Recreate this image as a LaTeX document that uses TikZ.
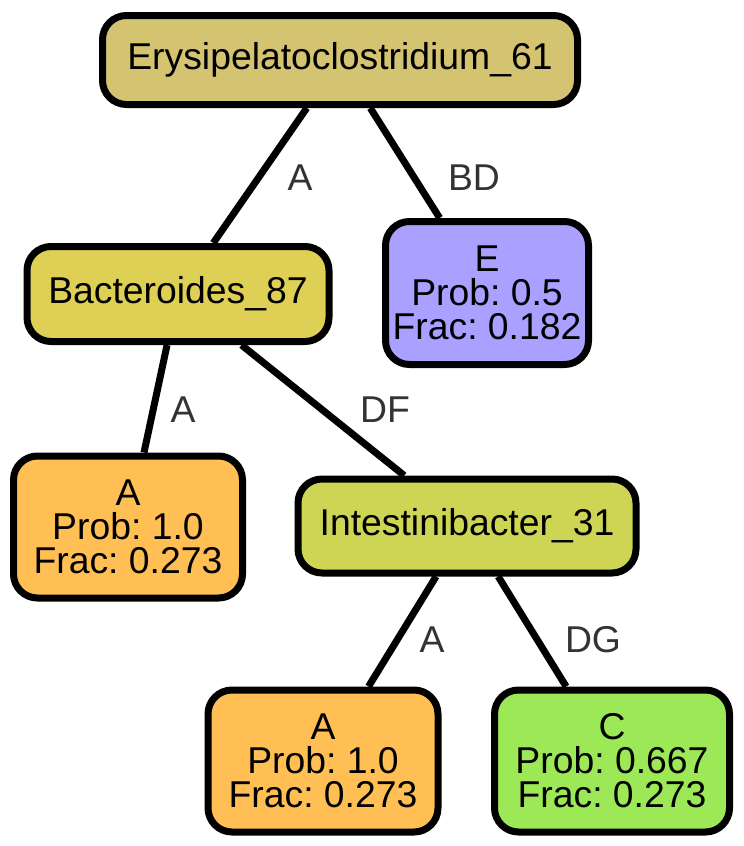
\documentclass[tikz,border=0pt]{standalone}
\usepackage{fontspec}
\setmainfont{Liberation Sans}
\frenchspacing
\definecolor{cRoot}{HTML}{D4C472}
\definecolor{cBact}{HTML}{DDD055}
\definecolor{cE}{HTML}{A9A0FF}
\definecolor{cA}{HTML}{FFBF55}
\definecolor{cInt}{HTML}{CED554}
\definecolor{cC}{HTML}{9DE856}
\definecolor{cLbl}{HTML}{333333}
\begin{document}
\begin{tikzpicture}[x=0.75pt,y=-0.75pt,
 box/.style={draw=black, line width=5.25pt, rounded corners=18pt, inner sep=0pt, align=center, font=\fontsize{28}{25.5}\selectfont\frenchspacing},
 lbl/.style={text=cLbl, font=\fontsize{28}{30}\selectfont},
 edge/.style={line width=5.25pt}]
\useasboundingbox (0,0) rectangle (743,846);
\node[box, fill=cRoot, minimum width=356.25pt, minimum height=66.75pt] (root) at (340,60) {Erysipelatoclostridium\_61};
\node[box, fill=cBact, minimum width=226.5pt, minimum height=71.25pt] (bact) at (178,294) {Bacteroides\_87};
\node[box, fill=cE, minimum width=152.25pt, minimum height=107.25pt] (e) at (487,293) {E\\Prob: 0.5\\Frac: 0.182};
\node[box, fill=cA, minimum width=171.75pt, minimum height=106.5pt] (a1) at (128,527) {A\\Prob: 1.0\\Frac: 0.273};
\node[box, fill=cInt, minimum width=253.5pt, minimum height=70.5pt] (int) at (467,526) {Intestinibacter\_31};
\node[box, fill=cA, minimum width=172.5pt, minimum height=106.5pt] (a2) at (323,761) {A\\Prob: 1.0\\Frac: 0.273};
\node[box, fill=cC, minimum width=176.25pt, minimum height=106.5pt] (c) at (612,761) {C\\Prob: 0.667\\Frac: 0.273};
\draw[edge] (root) -- (bact);
\draw[edge] (root) -- (e);
\draw[edge] (bact) -- (a1);
\draw[edge] (bact) -- (int);
\draw[edge] (int) -- (a2);
\draw[edge] (int) -- (c);
\node[lbl] (l1) at (300,178) {A};
\node[lbl] (l2) at (474,178) {BD};
\node[lbl] (l3) at (183,410) {A};
\node[lbl] (l4) at (385,410) {DF};
\node[lbl] (l5) at (432,640) {A};
\node[lbl] (l6) at (593,640) {DG};
\end{tikzpicture}
\end{document}
